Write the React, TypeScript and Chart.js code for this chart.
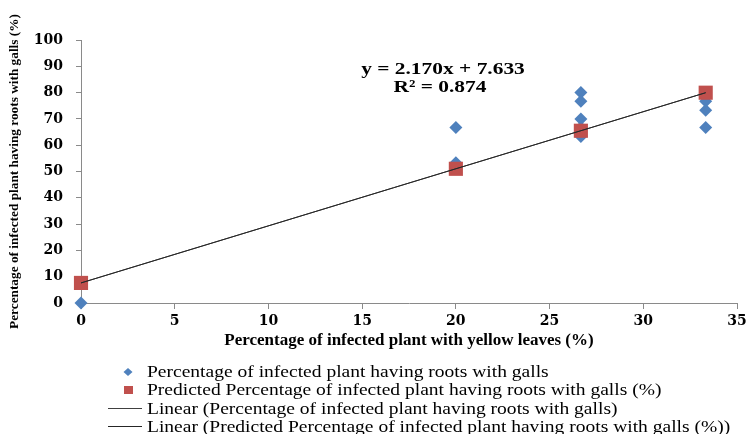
import React, { useEffect, useRef } from "react";
import { Chart, registerables } from "chart.js";

Chart.register(...registerables);

// ---- data ----
const obsX = [0, 20, 20, 26.67, 26.67, 26.67, 26.67, 26.67, 33.33, 33.33, 33.33, 33.33];
const obsY = [0, 66.7, 53.3, 80, 76.7, 70, 66.7, 63.3, 80, 76.7, 73.3, 66.7];
const predX = [0, 20, 26.67, 33.33];
const predY = [7.63, 51.03, 65.5, 79.96];
const trendX = [0, 33.33];
const trendObsY = [7.63, 79.96];
const trendPredY = [7.63, 79.96];
const seriesLabels = [
  "Percentage of infected plant having roots with galls",
  "Predicted Percentage of infected plant having roots with galls (%)",
  "Linear (Percentage of infected plant having roots with galls)",
  "Linear (Predicted Percentage of infected plant having roots with galls (%))",
];
const equationLines = ["y = 2.170x + 7.633", "R\u00b2 = 0.874"];
const xTitle = "Percentage of infected plant with yellow leaves (%)";
const yTitle = "Percentage of infected plant having roots with galls (%)";

const BLUE = "#4F81BD";
const RED = "#C0504D";
const SERIF = "'Liberation Serif', 'Times New Roman', serif";
const TICKFONT = "'DejaVu Serif', serif";

const zip = (xs: number[], ys: number[]) => xs.map((x, i) => ({ x, y: ys[i] }));

const stretchText = (ctx: CanvasRenderingContext2D, text: string, x: number, y: number, sx: number, align: "left" | "center") => {
  ctx.save();
  ctx.translate(x, y);
  ctx.scale(sx, 1);
  ctx.textAlign = align;
  ctx.fillText(text, 0, 0);
  ctx.restore();
};

const extrasPlugin = {
  id: "extras",
  afterDraw(chart: any) {
    const ctx = chart.ctx as CanvasRenderingContext2D;
    ctx.save();
    // equation
    ctx.fillStyle = "#000";
    ctx.font = `bold 17px ${SERIF}`;
    ctx.textBaseline = "middle";
    stretchText(ctx, equationLines[0], 443, 70, 1.26, "center");
    stretchText(ctx, equationLines[1], 440, 88, 1.26, "center");
    // legend
    const rows = [372, 390, 408.5, 426.5];
    ctx.font = `16px ${SERIF}`;
    chart.data.datasets.forEach((ds: any, i: number) => {
      const y = rows[i];
      if (ds.showLine) {
        ctx.strokeStyle = ds.borderColor;
        ctx.lineWidth = 1;
        ctx.beginPath();
        ctx.moveTo(108, y);
        ctx.lineTo(142, y);
        ctx.stroke();
      } else if (ds.pointStyle === "rectRot") {
        ctx.fillStyle = ds.backgroundColor;
        ctx.beginPath();
        ctx.moveTo(128, y - 4);
        ctx.lineTo(132.5, y);
        ctx.lineTo(128, y + 4);
        ctx.lineTo(123.5, y);
        ctx.closePath();
        ctx.fill();
      } else {
        ctx.fillStyle = ds.backgroundColor;
        ctx.fillRect(124, y - 4, 9, 8);
      }
      ctx.fillStyle = "#000";
      stretchText(ctx, ds.label, 147, y + 1, 1.22, "left");
    });
    ctx.restore();
  },
};

export default function App() {
  const ref = useRef<HTMLCanvasElement>(null);
  useEffect(() => {
    if (!ref.current) return;
    const chart = new Chart(ref.current, {
      type: "scatter",
      data: {
        datasets: [
          {
            label: seriesLabels[0],
            data: zip(obsX, obsY),
            pointStyle: "rectRot",
            radius: 6.5,
            backgroundColor: BLUE,
            borderColor: BLUE,
            borderWidth: 0,
            clip: false,
            order: 3,
          },
          {
            label: seriesLabels[1],
            data: zip(predX, predY),
            pointStyle: "rect",
            radius: 10,
            backgroundColor: RED,
            borderColor: RED,
            borderWidth: 0,
            clip: false,
            order: 2,
          },
          {
            label: seriesLabels[2],
            data: zip(trendX, trendObsY),
            showLine: true,
            pointRadius: 0,
            borderColor: "#404040",
            borderWidth: 1,
            order: 1,
          },
          {
            label: seriesLabels[3],
            data: zip(trendX, trendPredY),
            showLine: true,
            pointRadius: 0,
            borderColor: "#262626",
            borderWidth: 1,
            order: 0,
          },
        ] as any,
      },
      options: {
        animation: false,
        responsive: true,
        maintainAspectRatio: false,
        layout: { padding: { left: 0, right: 15, top: 40, bottom: 83 } },
        plugins: { legend: { display: false }, tooltip: { enabled: false } },
        scales: {
          x: {
            type: "linear",
            min: 0,
            max: 35,
            afterFit: (s: any) => { s.height = 48; },
            ticks: {
              stepSize: 5,
              color: "#000",
              padding: 4,
              font: { family: TICKFONT, size: 14, weight: "bold" },
            },
            grid: { drawOnChartArea: false, drawTicks: true, tickLength: 6, color: "#8a8a8a" },
            border: { color: "#8a8a8a", width: 1 },
            title: {
              display: true,
              text: xTitle,
              color: "#000",
              font: { family: SERIF, size: 17, weight: "bold" },
              padding: { top: 0, bottom: 0 },
            },
          },
          y: {
            type: "linear",
            min: 0,
            max: 100,
            afterFit: (s: any) => { s.width = 81; },
            ticks: {
              stepSize: 10,
              color: "#000",
              padding: 13,
              font: { family: TICKFONT, size: 14, weight: "bold" },
            },
            grid: { drawOnChartArea: false, drawTicks: true, tickLength: 5, color: "#8a8a8a" },
            border: { color: "#8a8a8a", width: 1 },
            title: {
              display: true,
              text: yTitle,
              color: "#000",
              font: { family: SERIF, size: 13.3, weight: "bold" },
              padding: { top: 7, bottom: 0 },
            },
          },
        },
      },
      plugins: [extrasPlugin],
    });
    return () => chart.destroy();
  }, []);
  return (
    <div style={{ position: "fixed", left: 0, top: 0, width: 752, height: 434, background: "#fff" }}>
      <canvas ref={ref} />
    </div>
  );
}
